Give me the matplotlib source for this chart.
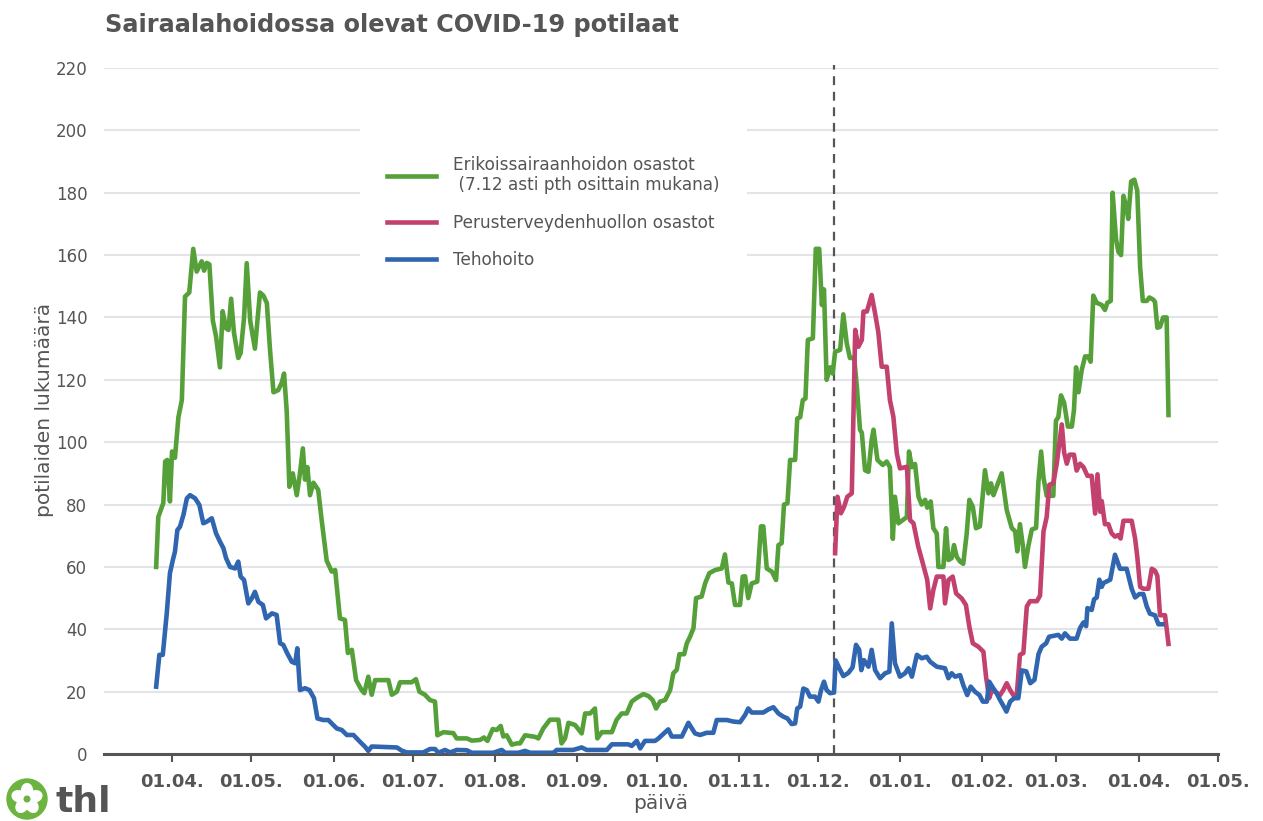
import numpy as np
import pandas as pd
import matplotlib
matplotlib.use("Agg")
import matplotlib.pyplot as plt
import matplotlib.dates as mdates
from matplotlib.patches import Circle, Ellipse

start = pd.Timestamp("2020-04-01")

# days after 1.4.2020 and patient counts
esh_day = [-6.0, -5.2, -3.3, -2.6, -1.8, -0.8, 0.0, 1.1, 2.4, 3.7, 4.9, 6.5, 8.0, 9.3, 11.2, 12.1,
           13.1, 14.1, 15.4, 16.6, 18.1, 19.1, 20.4, 21.3, 22.3, 23.4, 25.0, 25.9, 27.2, 28.2, 29.5,
           31.3, 33.2, 34.5, 35.8, 37.0, 38.3, 40.1, 41.4, 42.3, 43.3, 44.3, 45.6, 47.1, 48.3, 49.4,
           50.2, 51.1, 52.1, 53.4, 55.2, 56.5, 58.4, 60.3, 61.6, 63.4, 65.3, 66.4, 67.9, 69.5, 71.6,
           72.6, 74.1, 75.4, 76.7, 81.7, 83.0, 84.9, 86.1, 90.5, 92.1, 93.4, 95.5, 97.4, 99.3, 100.2,
           102.5, 106.2, 107.5, 111.3, 113.2, 116.3, 117.8, 119.1, 121.1, 122.6, 124.1, 125.1, 126.4,
           128.3, 130.2, 131.4, 133.3, 137.1, 138.3, 140.2, 142.7, 145.9, 147.1, 148.4, 149.7, 152.2,
           154.7, 156.0, 157.9, 159.7, 160.6, 162.3, 166.1, 167.9, 169.8, 171.7, 173.6, 175.5, 178.0,
           179.9, 181.5, 182.8, 184.3, 186.2, 188.1, 189.3, 190.6, 191.6, 193.4, 194.4, 195.6, 196.9,
           197.9, 200.0, 201.3, 202.9, 205.1, 207.6, 208.8, 210.1, 211.4, 212.6, 214.5, 215.5, 216.4,
           217.6, 218.9, 221.0, 222.4, 223.3, 224.6, 226.5, 228.1, 229.0, 230.2, 231.1, 232.4, 233.4,
           235.3, 236.1, 237.2, 238.2, 239.2, 240.1, 242.0, 243.1, 244.4, 245.4, 246.2, 247.2, 248.5,
           249.5, 250.4, 252.3, 253.5, 254.8, 256.0, 257.6, 258.6, 259.8, 260.5, 261.7, 263.0, 264.2,
           264.9, 266.4, 268.4, 269.9, 271.1, 272.2, 273.0, 274.3, 275.9, 277.5, 278.3, 279.4, 280.6,
           281.9, 283.1, 284.4, 285.2, 286.5, 287.5, 288.8, 289.4, 291.3, 292.3, 293.2, 294.4, 295.3,
           296.3, 297.6, 298.8, 300.1, 301.1, 302.4, 303.6, 305.1, 306.2, 307.0, 308.3, 309.3, 310.2,
           311.4, 313.3, 315.2, 317.1, 318.4, 319.2, 320.2, 321.3, 322.1, 323.4, 324.7, 326.3, 327.2,
           328.2, 329.1, 330.3, 332.8, 333.8, 334.7, 335.7, 336.9, 338.3, 339.8, 340.6, 341.4, 342.3,
           343.5, 344.8, 346.0, 346.9, 347.9, 349.2, 351.1, 352.3, 353.2, 354.5, 355.2, 356.5, 357.4,
           358.4, 359.3, 360.3, 361.1, 362.2, 363.4, 364.5, 365.6, 366.6, 368.1, 369.1, 370.4, 371.2,
           372.1, 373.1, 374.3, 375.6, 376.3]
esh_val = [60, 76, 80.5, 93.8, 94.3, 81, 97, 95, 108, 113.5, 146.7, 148, 162, 154.7, 158, 155,
           157.5, 157, 139, 134, 124, 142, 136.5, 136, 146, 135, 127, 128.6, 140, 157.4, 139,
           130, 148, 147, 144.6, 129.6, 116, 116.7, 119, 122, 110, 85.7, 90, 83, 90, 98,
           88, 92, 83, 87, 84.7, 75, 62, 58.5, 59, 43.5, 43, 32.4, 33.4, 23.7, 20.5,
           19.5, 24.8, 19, 23.7, 23.7, 19, 20, 23, 23, 24, 20, 19, 17.3, 16.8, 6,
           7, 6.7, 5, 5, 4.3, 4.5, 5.3, 4.2, 8, 7.7, 9, 5.6, 6,
           3, 3.4, 3.4, 6, 5.5, 5, 8.2, 11, 11, 3.4, 5, 10, 9.3,
           6.6, 13, 13, 14.6, 5, 7, 7, 11, 13, 13, 16.8, 18, 19.2,
           18.6, 17.3, 14.6, 16.8, 17.3, 20.5, 25.9, 27, 32, 32, 35.5, 37.6, 40.3,
           50, 50.5, 54.7, 58, 59, 59.5, 64, 55, 54.7, 47.8, 47.8, 56.9, 57,
           50, 54.7, 55.3, 73, 73, 59.5, 58.5, 55.8, 67, 67.6, 80, 80.4, 94.3,
           94.3, 107.6, 108, 113.5, 114, 132.8, 133.3, 162, 162, 144, 149, 120, 124,
           122, 129, 129.6, 141, 131.7, 127, 127, 118, 104, 103, 91, 90.5, 100.7,
           104, 94.3, 92.7, 93.8, 92, 69, 82.5, 74, 75, 76, 97, 92, 93,
           82.5, 80, 81.5, 79, 81, 72.4, 70.7, 60, 60, 72.4, 62.2, 62.8, 67,
           63.3, 61.7, 61, 70.7, 81.5, 79.3, 72.4, 73, 83.6, 91, 83.6, 86.8, 83,
           85.7, 90, 78.3, 72.5, 71.4, 65, 73.7, 66.8, 60, 66.8, 72, 72.5, 87.4,
           97, 88.6, 82.8, 82.8, 106.9, 108, 115, 112.6, 105, 105, 110.3, 124, 116,
           123, 127.5, 127.5, 125.8, 147, 144.7, 144, 142.4, 144.7, 145.3, 180, 165, 161,
           160, 179, 175.6, 171.6, 183.6, 184.2, 180.7, 156, 145.3, 145.3, 146.4, 145.8, 145,
           136.7, 137, 140, 140, 108.7]

pth_day = [250.4, 251.3, 252.6, 253.8, 255.0, 256.7, 258.0, 259.2, 260.5, 261.1, 262.4, 264.2,
           265.5, 266.7, 268.0, 269.9, 271.1, 272.4, 273.7, 274.9, 277.5, 278.7, 280.0, 281.8,
           283.7, 285.2, 286.3, 287.5, 288.8, 291.3, 291.9, 293.2, 294.8, 296.1, 298.2, 299.8,
           301.1, 302.4, 304.5, 306.4, 307.4, 308.6, 309.6, 310.8, 312.7, 313.9, 315.2, 316.5,
           317.7, 319.0, 320.2, 321.5, 322.8, 324.0, 326.6, 327.8, 329.1, 330.3, 331.3, 332.8,
           334.1, 336.0, 336.9, 337.9, 338.9, 340.6, 341.6, 342.9, 344.2, 345.7, 347.3, 348.6,
           349.5, 350.5, 351.1, 352.3, 353.6, 354.8, 356.1, 357.3, 358.2, 359.3, 362.4, 363.7,
           364.5, 365.6, 366.8, 368.7, 370.0, 371.2, 372.1, 373.1, 375.0, 376.3]
pth_val = [64.4, 82.5, 77.2, 79.3, 82.5, 83.6, 136, 130.6, 132.8, 141.9, 141.9, 147.2,
           141.3, 135.4, 124.2, 124.2, 113.5, 108.2, 96.4, 91.6, 92.1, 75, 74, 66.5,
           60.6, 55.8, 46.7, 52.6, 56.9, 56.9, 48.3, 55.8, 56.9, 51.5, 49.9, 47.8,
           40.8, 35.5, 34.4, 32.8, 24.8, 17.9, 20.5, 20, 18.9, 20.5, 22.7, 20.5,
           18.9, 18.9, 31.8, 32.4, 47.3, 49, 49, 50.8, 71.4, 76, 86.3, 86.9,
           93.1, 105.7, 96.6, 93.1, 96, 96, 90.9, 93.1, 92, 89.2, 89.2, 77.1,
           89.7, 77.7, 81.1, 73.7, 73.7, 70.8, 69.7, 70.2, 69.1, 74.8, 74.8, 69.1,
           63.4, 53.6, 53, 53, 59.4, 58.8, 57.1, 44.5, 44.5, 35.3]

icu_day = [-6.0, -4.8, -3.5, -2.0, -0.8, 0.3, 1.1, 2.0, 3.0, 4.3, 5.6, 6.8, 8.7, 10.3, 11.8, 13.1,
           15.0, 16.6, 18.1, 19.4, 20.4, 21.9, 23.8, 25.0, 25.9, 27.2, 28.8, 30.1, 31.3, 32.6,
           34.3, 35.5, 37.7, 39.5, 40.8, 42.0, 43.5, 45.2, 46.5, 47.3, 48.3, 50.2, 51.9, 53.6,
           54.9, 57.1, 59.0, 60.3, 62.2, 64.1, 66.0, 68.5, 71.0, 72.9, 74.1, 75.4, 84.9, 86.7,
           88.6, 94.9, 97.4, 99.3, 100.6, 103.1, 105.0, 107.5, 111.3, 113.2, 121.3, 124.5, 125.8,
           130.8, 133.3, 135.2, 144.0, 145.3, 151.5, 154.7, 156.6, 164.2, 166.1, 172.3, 173.6,
           175.5, 176.8, 178.6, 182.4, 183.7, 187.4, 188.7, 192.5, 195.0, 197.5, 199.4, 201.9,
           204.4, 205.7, 209.5, 212.0, 214.5, 216.4, 217.6, 218.9, 223.3, 225.2, 227.1, 229.0,
           230.8, 232.4, 234.0, 235.3, 236.1, 237.2, 238.4, 239.7, 240.9, 242.8, 244.1, 245.1,
           246.2, 247.2, 248.5, 250.0, 250.6, 252.0, 253.5, 255.4, 257.0, 258.3, 259.5, 260.3,
           261.3, 263.0, 264.2, 265.5, 267.4, 269.3, 270.9, 271.8, 273.0, 274.9, 276.8, 278.1,
           279.4, 281.3, 283.1, 285.0, 286.3, 288.8, 291.9, 293.2, 294.4, 295.7, 297.6, 298.8,
           300.3, 301.6, 303.2, 304.9, 306.2, 307.7, 308.6, 310.2, 311.4, 312.7, 313.9, 315.1,
           316.5, 318.0, 319.6, 320.9, 322.6, 324.1, 325.7, 327.2, 328.4, 330.1, 331.2, 334.7,
           336.0, 337.2, 339.1, 341.6, 342.9, 344.2, 345.2, 345.7, 347.3, 348.2, 349.2, 350.2,
           351.1, 351.7, 354.3, 356.1, 358.0, 360.5, 362.4, 363.7, 365.3, 366.8, 368.1, 369.3,
           371.2, 372.5, 374.1]
icu_val = [21.6, 31.8, 31.8, 45.1, 58, 62.2, 64.9, 71.8, 72.9, 76.7, 82, 83, 82, 79.9, 74, 74.5,
           75.6, 70.8, 68.1, 66, 62.8, 60, 59.5, 61.7, 56.9, 55.8, 48.3, 49.9, 52, 48.8,
           47.8, 43.5, 45.1, 44.6, 35.5, 35, 32.3, 29.6, 29.1, 33.9, 20.5, 21.1, 20.5, 17.9,
           11.4, 10.9, 10.9, 9.8, 8.2, 7.7, 6.1, 6.1, 3.9, 2.3, 1.0, 2.4, 2.1, 1.1,
           0.5, 0.5, 1.6, 1.6, 0.4, 1.3, 0.5, 1.3, 1.2, 0.4, 0.4, 1.3, 0.4,
           0.4, 1.0, 0.4, 0.4, 1.3, 1.3, 2.1, 1.3, 1.3, 3.1, 3.1, 2.6,
           4.2, 1.8, 4.2, 4.2, 5, 7.9, 5.6, 5.6, 10, 6.6, 6.1, 6.8,
           6.8, 10.9, 10.9, 10.4, 10.2, 12.5, 14.6, 13.3, 13.3, 14.3, 15, 13,
           12, 11.4, 9.6, 9.8, 14.6, 15.2, 21, 20.5, 18.4, 18.4, 16.8, 20.5,
           23.2, 20.5, 19.5, 19.7, 30, 27.5, 25, 26, 27.8, 35, 33.4, 26.9,
           30.1, 28, 33.4, 26.9, 24.3, 25.9, 26.4, 41.9, 29.1, 24.8, 25.9, 27.5,
           24.8, 31.8, 30.7, 31.2, 29.6, 28, 27.5, 24.3, 25.9, 24.8, 25.3, 22.1,
           18.9, 21.6, 20, 18.9, 16.8, 16.8, 23.2, 21, 19.5, 17.3, 15.5, 13.6,
           16.8, 17.9, 17.9, 26.8, 26.5, 22.7, 23.8, 32, 34.4, 35.5, 37.6, 38.2,
           37, 38.7, 37, 37, 40.4, 42.2, 41, 46.8, 46.2, 49.6, 50.2, 55.9,
           53.6, 54.8, 55.9, 63.9, 59.4, 59.4, 53, 50.2, 51.3, 51.3, 47.3, 45,
           44.5, 41.6, 41.6]

labels = ["Erikoissairaanhoidon osastot\n (7.12 asti pth osittain mukana)",
          "Perusterveydenhuollon osastot",
          "Tehohoito"]
colors = ["#55a039", "#c2416f", "#3065b0"]
split_date = pd.Timestamp("2020-12-07")
gray = "#555555"


def to_dates(days):
    return start + pd.to_timedelta(np.array(days), unit="D")


fig = plt.figure(figsize=(12.63, 8.21), dpi=100)
ax = fig.add_axes([104 / 1263, 1 - 754 / 821, (1218 - 104) / 1263, (754 - 68) / 821])

lines = []
for d, v, c in [(esh_day, esh_val, colors[0]), (pth_day, pth_val, colors[1]), (icu_day, icu_val, colors[2])]:
    ln, = ax.plot(to_dates(d), v, color=c, lw=3.3, solid_joinstyle="round", zorder=3)
    lines.append(ln)

ax.axvline(split_date, ymin=0, ymax=1.005, color=gray, lw=1.6, ls=(0, (4, 3)), zorder=2, clip_on=False)

ax.set_xlim(start - pd.Timedelta(days=25.7), pd.Timestamp("2021-05-01"))
ax.set_ylim(0, 220)
ax.set_yticks(np.arange(0, 221, 20))
ax.xaxis.set_major_locator(mdates.MonthLocator(bymonthday=1))
ax.xaxis.set_major_formatter(mdates.DateFormatter("%d.%m."))

for s in ["left", "right", "top"]:
    ax.spines[s].set_visible(False)
ax.spines["bottom"].set_color(gray)
ax.spines["bottom"].set_linewidth(2.2)
ax.yaxis.grid(True, color="#e2e4e8", lw=1.5)
ax.set_axisbelow(True)

ax.tick_params(axis="y", length=0, pad=12, labelsize=12, labelcolor=gray)
ax.tick_params(axis="x", length=6, width=1.5, color=gray, pad=8, labelsize=13, labelcolor=gray)
plt.setp(ax.get_xticklabels(), fontweight="bold")

fig.text(105 / 1263, 1 - 25 / 821, "Sairaalahoidossa olevat COVID-19 potilaat",
         fontsize=17.3, fontweight="bold", color=gray, va="center", ha="left")
fig.text(45 / 1263, 1 - 410 / 821, "potilaiden lukumäärä", rotation=90,
         fontsize=14.5, color=gray, va="center", ha="center")
fig.text(661 / 1263, 1 - 803 / 821, "päivä", fontsize=14.5, color=gray, va="center", ha="center")

ax.legend(lines, labels, loc="upper left", bbox_to_anchor=(360 / 1263, 1 - 128.5 / 821),
          bbox_transform=fig.transFigure, frameon=True, facecolor="white", edgecolor="none",
          framealpha=1, fancybox=False, fontsize=12.2, labelcolor=gray, handlelength=2.9,
          handletextpad=1.0, labelspacing=1.15, borderpad=1.6, borderaxespad=0)

# thl logo
lax = fig.add_axes([6 / 1263, 1 - 820 / 821, 42 / 1263, 42 / 821])
lax.set_aspect("equal")
lax.axis("off")
lax.set_xlim(-1.05, 1.05)
lax.set_ylim(-1.05, 1.05)
lax.add_patch(Circle((0, 0), 1.0, color="#6cb33f"))
for k in range(5):
    a = np.deg2rad(90 + 72 * k)
    lax.add_patch(Ellipse((0.42 * np.cos(a), 0.42 * np.sin(a)), 0.55, 0.7,
                          angle=np.rad2deg(a) - 90, color="white"))
lax.add_patch(Circle((0, 0), 0.14, color="#6cb33f"))
fig.text(55 / 1263, 1 - 802 / 821, "thl", fontsize=26, fontweight="bold", color=gray, va="center", ha="left")

fig.savefig("out.png", dpi=100)
